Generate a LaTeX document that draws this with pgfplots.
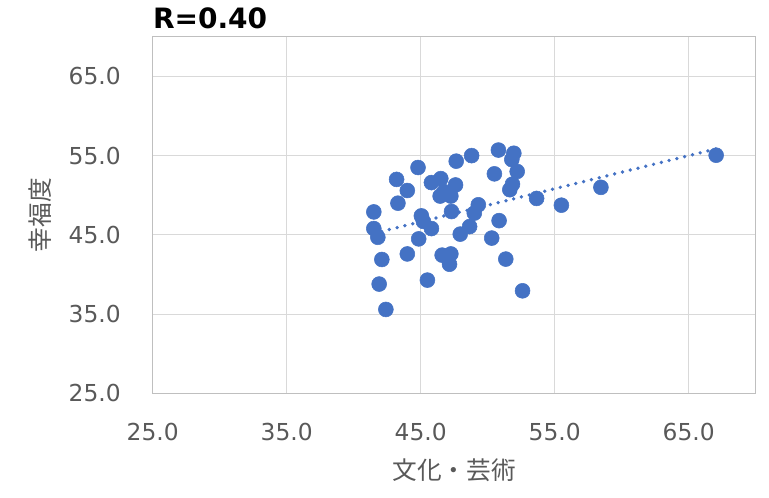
\documentclass[border=0pt]{standalone}
\usepackage{fontspec}
\setmainfont{DejaVu Sans}
\newfontfamily\jp{Noto Sans CJK JP}
\usepackage{pgfplots}
\pgfplotsset{compat=1.18}
\definecolor{ptblue}{HTML}{4472C4}
\definecolor{gridc}{HTML}{D9D9D9}
\definecolor{axc}{HTML}{BFBFBF}
\definecolor{tickc}{HTML}{595959}

\begin{document}
\begin{tikzpicture}
\begin{axis}[
  scale only axis, width=452pt, height=267.5pt,
  xmin=25, xmax=70, ymin=25, ymax=70,
  xtick={25,35,45,55,65}, ytick={25,35,45,55,65},
  grid=major, major grid style={gridc, line width=0.75pt},
  axis line style={axc, line width=0.75pt},
  major tick length=0pt,
  tick label style={font=\fontsize{17.5}{20}\selectfont, text=tickc, inner sep=0pt},
  /pgf/number format/.cd, fixed, fixed zerofill, precision=1, assume math mode=true, /pgfplots/.cd,
  xticklabel style={anchor=center, yshift=-28.5pt},
  yticklabel style={anchor=east, xshift=-23.8pt},
  clip=false,
]
\addplot[only marks, mark=*, mark size=5.6pt, mark options={fill=ptblue, draw=ptblue}] coordinates {
 (41.5,47.9) (41.5,45.8) (41.8,44.7) (42.1,41.9) (41.9,38.8) (42.4,35.6)
 (43.2,52.0) (44.0,50.6) (43.3,49.0) (44.0,42.6) (44.8,53.5) (45.05,47.4)
 (45.2,46.7) (45.8,45.8) (44.85,44.5) (45.5,39.3) (45.8,51.6) (46.5,52.1)
 (47.6,51.3) (47.65,54.3) (48.8,55.0) (46.45,49.9) (46.75,50.45) (47.25,49.9)
 (47.3,47.95) (46.6,42.45) (47.25,42.6) (47.15,41.3) (47.95,45.1) (48.65,46.05)
 (49.0,47.75) (49.3,48.8) (50.3,44.6) (50.85,46.8) (50.5,52.7) (50.8,55.7)
 (51.95,55.3) (51.8,54.5) (52.2,53.0) (51.85,51.4) (51.65,50.7) (51.35,41.95)
 (52.6,37.95) (53.65,49.6) (55.5,48.75) (58.45,51.0) (67.05,55.05)
};
\addplot[ptblue, line width=2.8pt, line cap=round, dash pattern=on 0pt off 6pt] coordinates {
 (41.5,45.2) (67.05,55.85)
};
\coordinate (SW) at (rel axis cs:0,0);
\coordinate (NE) at (rel axis cs:1,1);
\coordinate (NW) at (rel axis cs:0,1);
\coordinate (WM) at (rel axis cs:0,0.5);
\coordinate (SM) at (rel axis cs:0.5,0);
\end{axis}
\node[font=\jp\fontsize{18.5}{22}\selectfont, text=tickc, inner sep=0pt] at ([yshift=-57.75pt]SM) {文化・芸術};
\node[font=\jp\fontsize{18.5}{22}\selectfont, text=tickc, inner sep=0pt, rotate=90] at ([xshift=-84.5pt]WM) {幸福度};
\node[font=\bfseries\fontsize{21}{24}\selectfont, anchor=west, inner sep=0pt] at ([yshift=14pt]NW) {R=0.40};
\path ([xshift=-114.5pt,yshift=-77.8pt]SW) rectangle ([xshift=10pt,yshift=27.5pt]NE);
\end{tikzpicture}
\end{document}
